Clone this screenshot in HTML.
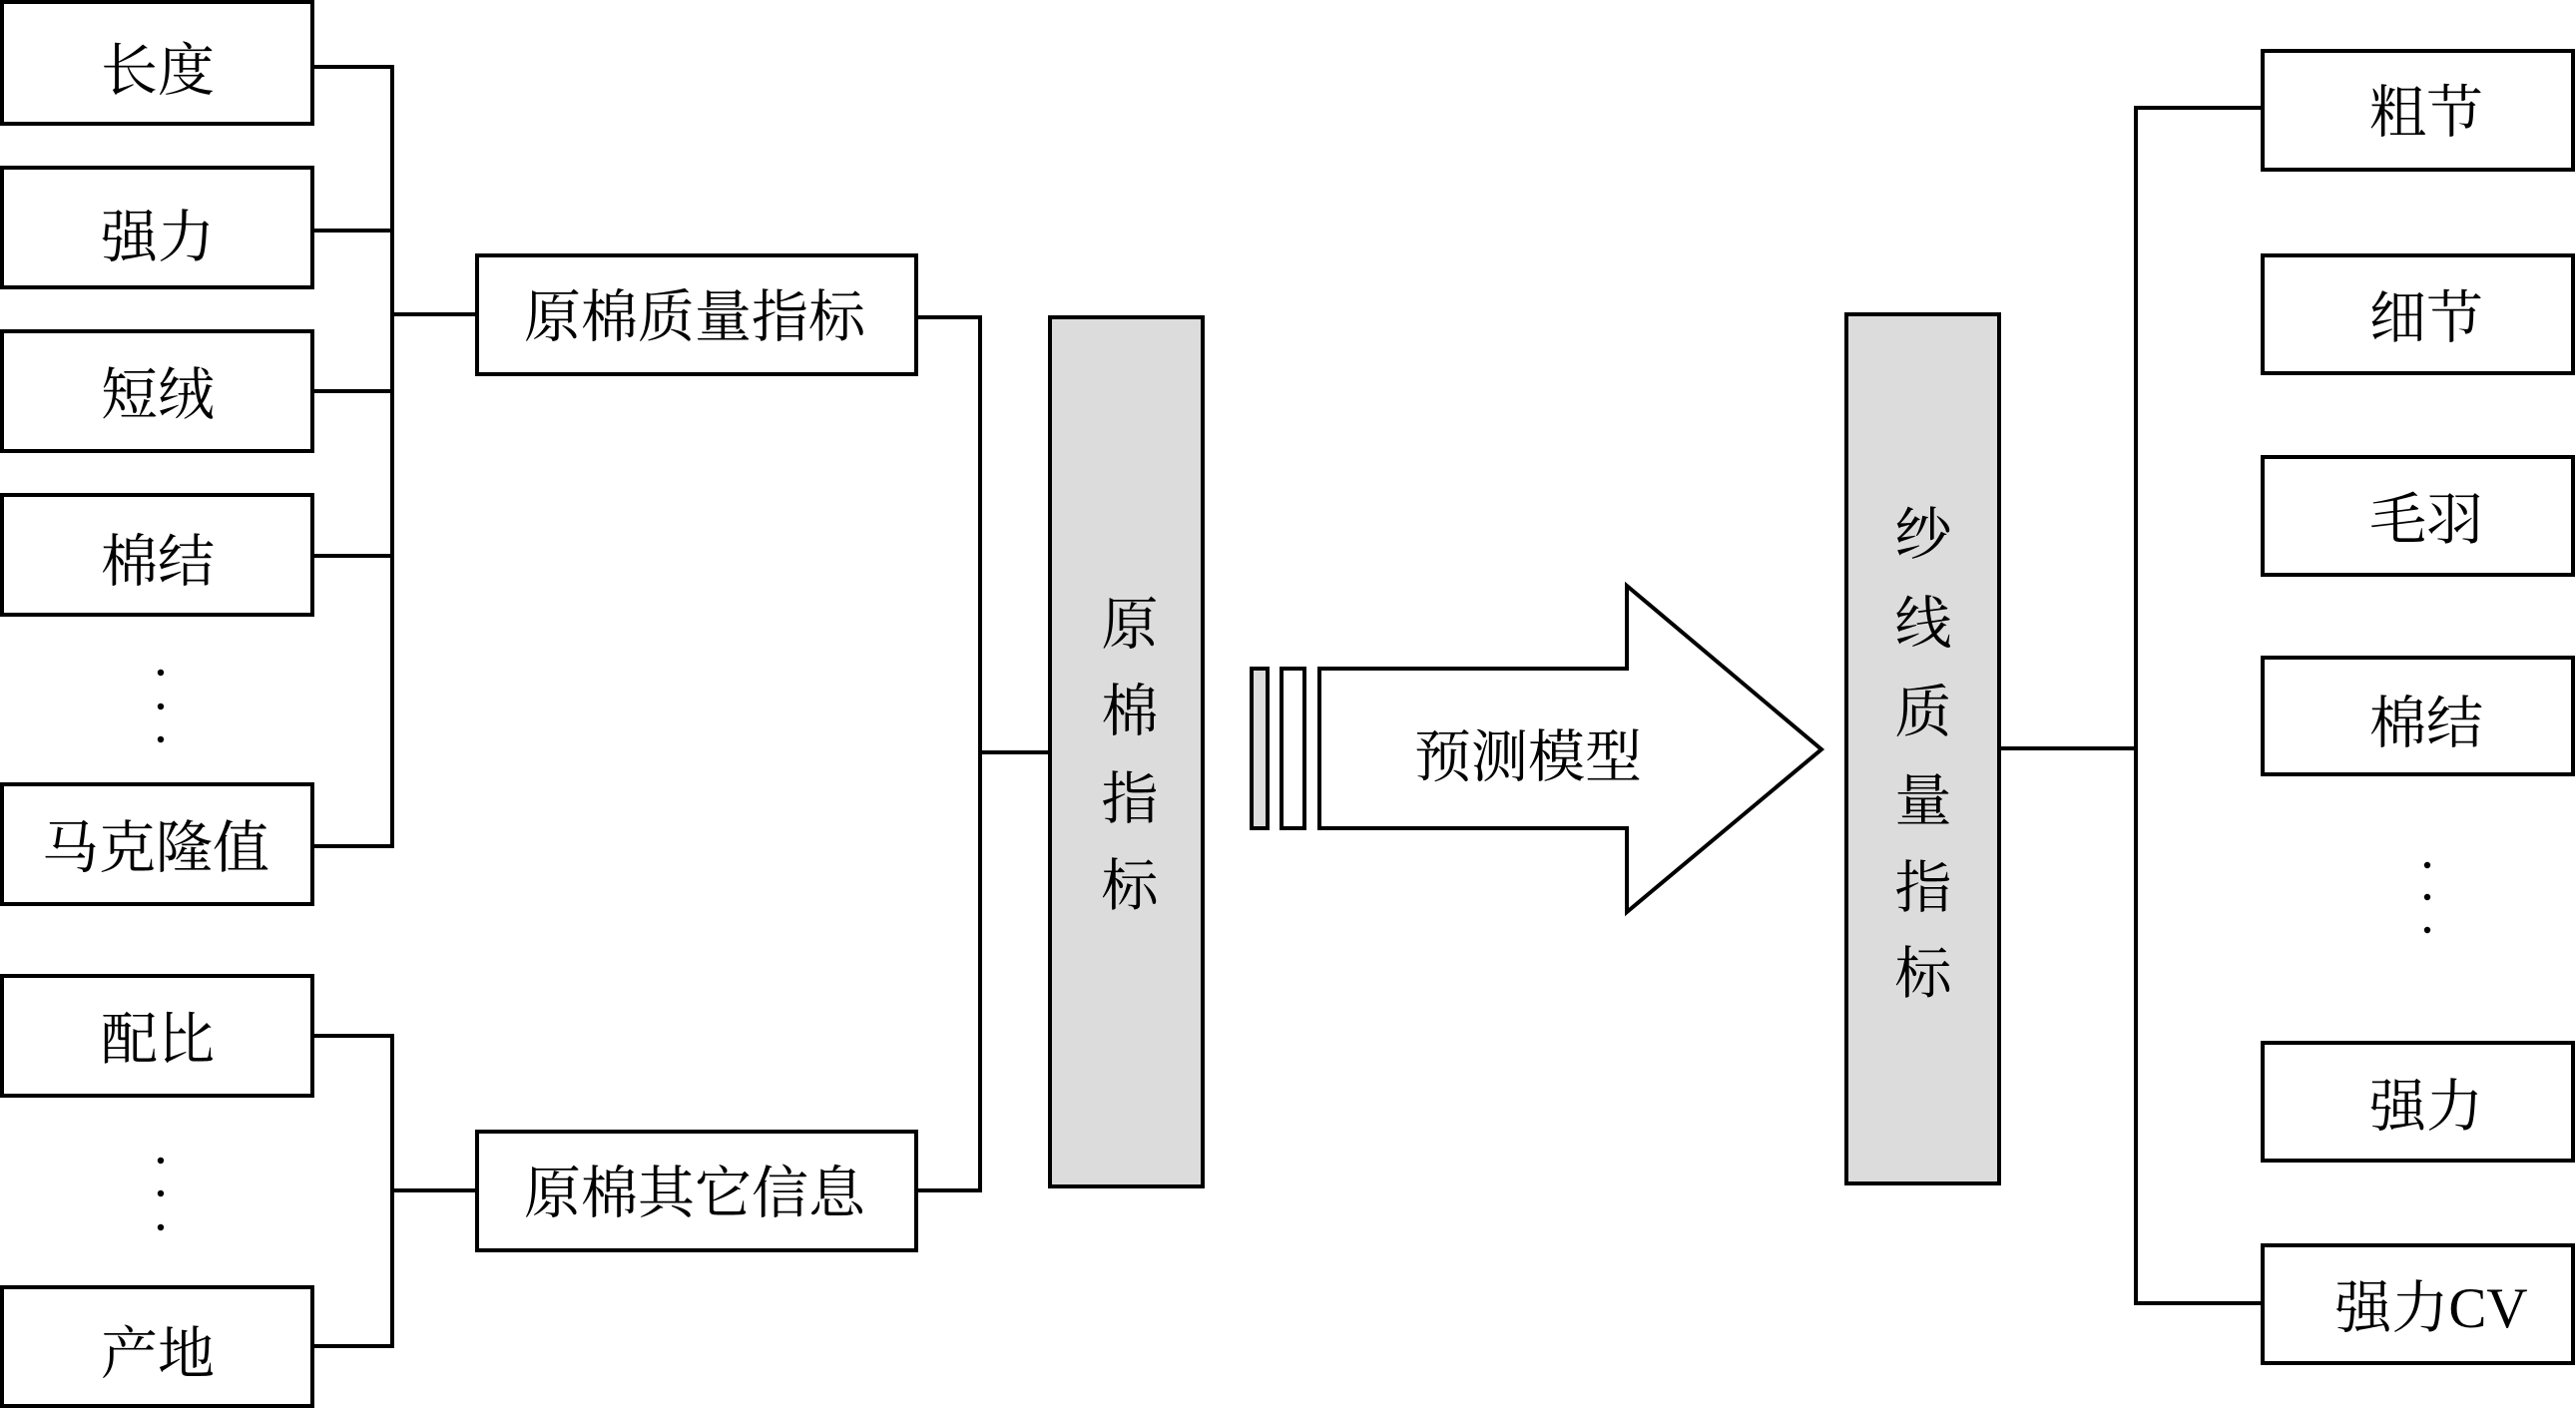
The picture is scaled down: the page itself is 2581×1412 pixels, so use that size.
<!DOCTYPE html>
<html>
<head>
<meta charset="utf-8">
<style>
  html, body { margin: 0; padding: 0; background: #ffffff; }
  body { width: 2581px; height: 1412px; overflow: hidden; }
  svg { display: block; }
  text { font-family: "Liberation Serif", "Noto Serif CJK SC", serif; font-size: 57px; fill: #000; }
</style>
</head>
<body>
<svg width="2581" height="1412" viewBox="0 0 2581 1412" xmlns="http://www.w3.org/2000/svg">
  <g fill="none" stroke="#000" stroke-width="4">
    <!-- left boxes -->
    <rect x="2" y="2" width="311" height="122" fill="#fff"/>
    <rect x="2" y="168" width="311" height="120" fill="#fff"/>
    <rect x="2" y="332" width="311" height="120" fill="#fff"/>
    <rect x="2" y="496" width="311" height="120" fill="#fff"/>
    <rect x="2" y="786" width="311" height="120" fill="#fff"/>
    <rect x="2" y="978" width="311" height="120" fill="#fff"/>
    <rect x="2" y="1290" width="311" height="119" fill="#fff"/>

    <!-- left connectors group 1 -->
    <polyline points="313,67 393,67 393,848 313,848"/>
    <line x1="313" y1="231" x2="393" y2="231"/>
    <line x1="313" y1="392" x2="393" y2="392"/>
    <line x1="313" y1="557" x2="393" y2="557"/>
    <line x1="393" y1="315" x2="478" y2="315"/>

    <!-- left connectors group 2 -->
    <polyline points="313,1038 393,1038 393,1349 313,1349"/>
    <line x1="393" y1="1193" x2="478" y2="1193"/>

    <!-- middle boxes -->
    <rect x="478" y="256" width="440" height="119" fill="#fff"/>
    <rect x="478" y="1134" width="440" height="119" fill="#fff"/>

    <!-- connectors to gray box -->
    <polyline points="918,318 982,318 982,1193 918,1193"/>
    <line x1="982" y1="754" x2="1052" y2="754"/>

    <!-- gray boxes -->
    <rect x="1052" y="318" width="153" height="871" fill="#dcdcdc"/>
    <rect x="1850" y="315" width="153" height="871" fill="#dcdcdc"/>

    <!-- bars -->
    <rect x="1254" y="670" width="16" height="160" fill="#dcdcdc"/>
    <rect x="1284" y="670" width="23" height="160" fill="#fff"/>

    <!-- big arrow -->
    <polygon points="1322,670 1630,670 1630,587 1825,751 1630,914 1630,830 1322,830" fill="#fff"/>

    <!-- right connectors -->
    <line x1="2003" y1="750" x2="2140" y2="750"/>
    <polyline points="2267,108 2140,108 2140,1306 2267,1306"/>

    <!-- right boxes -->
    <rect x="2267" y="51" width="311" height="119" fill="#fff"/>
    <rect x="2267" y="256" width="311" height="118" fill="#fff"/>
    <rect x="2267" y="458" width="311" height="118" fill="#fff"/>
    <rect x="2267" y="659" width="311" height="117" fill="#fff"/>
    <rect x="2267" y="1045" width="311" height="118" fill="#fff"/>
    <rect x="2267" y="1248" width="311" height="118" fill="#fff"/>
  </g>

  <!-- dots -->
  <g fill="#000">
    <circle cx="161" cy="674" r="3.2"/>
    <circle cx="161" cy="708" r="3.2"/>
    <circle cx="161" cy="741" r="3.2"/>
    <circle cx="161" cy="1163" r="3.2"/>
    <circle cx="161" cy="1196" r="3.2"/>
    <circle cx="161" cy="1230" r="3.2"/>
    <circle cx="2432" cy="867" r="3.2"/>
    <circle cx="2432" cy="899" r="3.2"/>
    <circle cx="2432" cy="932" r="3.2"/>
  </g>

  <g text-anchor="middle">
    <text x="158" y="90">长度</text>
    <text x="158" y="257">强力</text>
    <text x="158" y="415">短绒</text>
    <text x="158" y="582">棉结</text>
    <text x="156" y="869">马克隆值</text>
    <text x="158" y="1061">配比</text>
    <text x="158" y="1376">产地</text>

    <text x="696" y="337">原棉质量指标</text>
    <text x="696" y="1215">原棉其它信息</text>

    <text x="1132" y="645">原</text>
    <text x="1132" y="732">棉</text>
    <text x="1132" y="820">指</text>
    <text x="1132" y="907">标</text>

    <text x="1531" y="778">预测模型</text>

    <text x="1927" y="555">纱</text>
    <text x="1927" y="644">线</text>
    <text x="1927" y="733">质</text>
    <text x="1927" y="822">量</text>
    <text x="1927" y="909">指</text>
    <text x="1927" y="995">标</text>

    <text x="2431" y="132">粗节</text>
    <text x="2431" y="338">细节</text>
    <text x="2431" y="540">毛羽</text>
    <text x="2431" y="744">棉结</text>
    <text x="2431" y="1128">强力</text>
    <text x="2436" y="1330">强力CV</text>
  </g>
</svg>
</body>
</html>
